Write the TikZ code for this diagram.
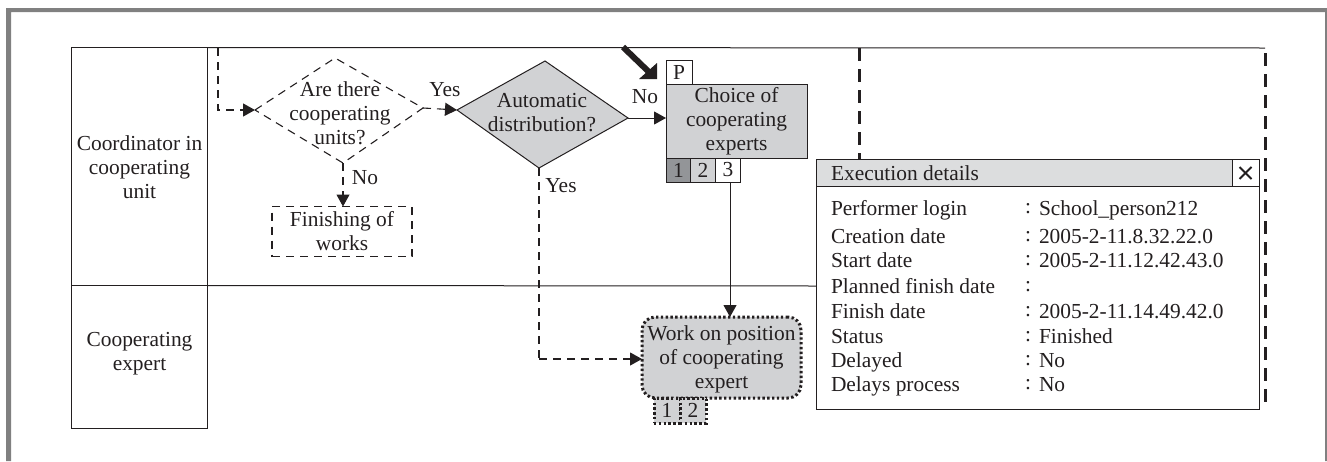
\documentclass[tikz,border=0pt]{standalone}
\usepackage{fontspec}
\setmainfont{Liberation Serif}
\usetikzlibrary{arrows.meta}
\definecolor{ink}{HTML}{231F20}
\definecolor{lightfill}{HTML}{D1D2D4}
\definecolor{titlefill}{HTML}{DCDDDE}
\definecolor{darkfill}{HTML}{939598}
\definecolor{framegray}{HTML}{808080}
\tikzset{
  every node/.style={text=ink,font=\fontsize{21.4}{24}\selectfont,inner sep=0pt,outer sep=0pt},
  ln/.style={draw=ink,line width=1pt},
  dsh/.style={draw=ink,line width=1.1pt,dash pattern=on 8pt off 6pt},
  bolddsh/.style={draw=ink,line width=3pt,dash pattern=on 13pt off 8pt},
  dot/.style={draw=ink,line width=3pt,dash pattern=on 2.4pt off 2.4pt},
  tip/.style={-{Triangle[length=12pt,width=13pt]}},
  lane/.style={ln,minimum width=136pt},
  tab/.style={ln,minimum width=25pt,minimum height=24pt},
  dtab/.style={dot,fill=lightfill,minimum width=26pt,minimum height=25pt},
  lab/.style={anchor=base},
  lbl/.style={anchor=base west},
}
\begin{document}
\begin{tikzpicture}[x=1pt,y=-1pt]
\useasboundingbox (0,0) rectangle (1327,461);
% frame
\fill[framegray] (6,461) -- (6,8) -- (1327,8) -- (1327,461) -- (1325,461) -- (1325,12) -- (11,12) -- (11,461) -- cycle;
% lanes
\node[lane,minimum height=238pt] (lane1) at (139,166.5) {};
\node[lane,minimum height=142.5pt] (lane2) at (139,356.75) {};
\node[align=center] (lane1t) at (139.5,167.5) {Coordinator in\\cooperating\\unit};
\node[align=center] (lane2t) at (139.5,353.5) {Cooperating\\expert};
\coordinate (topend) at (1265,48);
\coordinate (midend) at (816,286);
\draw[ln] (lane1.north east) -- (topend);
\draw[ln] (lane1.south east) -- (midend);
% diamond 1
\coordinate (a1) at (255,110);
\coordinate (a2) at (335,58);
\coordinate (a3) at (423,108);
\coordinate (a4) at (343,163);
\draw[dsh] (a1) -- (a2) -- (a3) -- (a4) -- cycle;
\node[align=center] (q1) at (340,113) {Are there\\cooperating\\units?};
% diamond 2
\coordinate (b1) at (457,110);
\coordinate (b2) at (545,61);
\coordinate (b3) at (628,118);
\coordinate (b4) at (539,168);
\filldraw[ln,fill=lightfill] (b1) -- (b2) -- (b3) -- (b4) -- cycle;
\node[align=center] (q2) at (542,112.5) {Automatic\\distribution?};
% finish box
\node[dsh,align=center,minimum width=140pt,minimum height=50pt] (finish) at (342,231.5) {Finishing of\\works};
% choice
\node[ln,fill=lightfill,align=center,minimum width=141pt,minimum height=74pt] (choice) at (736.5,121) {Choice of\\cooperating\\experts};
\node[ln,minimum width=26pt,minimum height=24pt] (p) at (679,72) {P};
\node[tab,fill=darkfill] (c1) at (678.5,170) {1};
\node[tab,fill=lightfill] (c2) at (703,170) {2};
\node[tab,fill=white] (c3) at (728,170) {3};
% work
\node[dot,fill=lightfill,rounded corners=13pt,minimum width=159pt,minimum height=81pt] (work) at (721.5,357.5) {};
\node[align=center] (workt) at (721.5,359) {Work on position\\of cooperating\\expert};
\node[dtab] (w1) at (667,410.5) {1};
\node[dtab] (w2) at (693,410.5) {2};
% connectors
\coordinate (start) at (218,48);
\coordinate (bend1) at (218,110);
\coordinate (bend2) at (539,359);
\draw[dsh,tip] (start) -- (bend1) -- (a1);
\draw[dsh,tip] (a3) -- (b1);
\draw[dsh,tip] (a4) -- (finish.north -| a4);
\draw[ln,tip] (b3) -- (choice.west |- b3);
\draw[dsh] (b4) -- (bend2);
\draw[dsh,tip] (bend2) -- (work.west |- bend2);
\draw[ln,tip] ([xshift=2pt]c3.south) -- ([xshift=8.5pt]work.north);
\node[lab] (yes1) at (445,96) {Yes};
\node[lab] (no1) at (365,184) {No};
\node[lab] (no2) at (645,103) {No};
\node[lab] (yes2) at (561,192) {Yes};
% thick arrow
\coordinate (ta) at (623,47);
\coordinate (tb) at (650,73);
\coordinate (t1) at (639,79);
\coordinate (t2) at (657,79);
\coordinate (t3) at (657,63);
\draw[draw=ink,line width=6pt] (ta) -- (tb);
\fill[ink] (t1) -- (t2) -- (t3) -- cycle;
% bold dashed lane dividers
\coordinate (v1) at (859,48);
\coordinate (v2) at (859,160);
\coordinate (v3) at (1265,53);
\coordinate (v4) at (1265,409);
\draw[bolddsh] (v1) -- (v2);
\draw[bolddsh] (v3) -- (v4);
% window
\node[ln,fill=white,minimum width=443pt,minimum height=250pt] (win) at (1037.5,284.5) {};
\node[ln,fill=titlefill,minimum width=443pt,minimum height=27pt] (bar) at (1037.5,173) {};
\node[ln,fill=white,minimum width=27pt,minimum height=27pt] (close) at (1245.5,173) {};
\draw[draw=ink,line width=2pt] ([xshift=-6pt,yshift=-6pt]close.center) -- ([xshift=6pt,yshift=6pt]close.center);
\draw[draw=ink,line width=2pt] ([xshift=-6pt,yshift=6pt]close.center) -- ([xshift=6pt,yshift=-6pt]close.center);
\node[lbl] (title) at (831,180) {Execution details};
\foreach \i/\y/\k/\v in {1/215/Performer login/School\_person212,2/243/Creation date/2005-2-11.8.32.22.0,3/267.5/Start date/2005-2-11.12.42.43.0,4/293.5/Planned finish date/,5/318.5/Finish date/2005-2-11.14.49.42.0,6/343/Status/Finished,7/367/Delayed/No,8/391.5/Delays process/No}{
  \node[lbl] (k\i) at (831,\y) {\k};
  \node[lbl] (s\i) at (1025,\y-2) {:};
  \node[lbl] (v\i) at (1039,\y) {\v};
}
\end{tikzpicture}
\end{document}
